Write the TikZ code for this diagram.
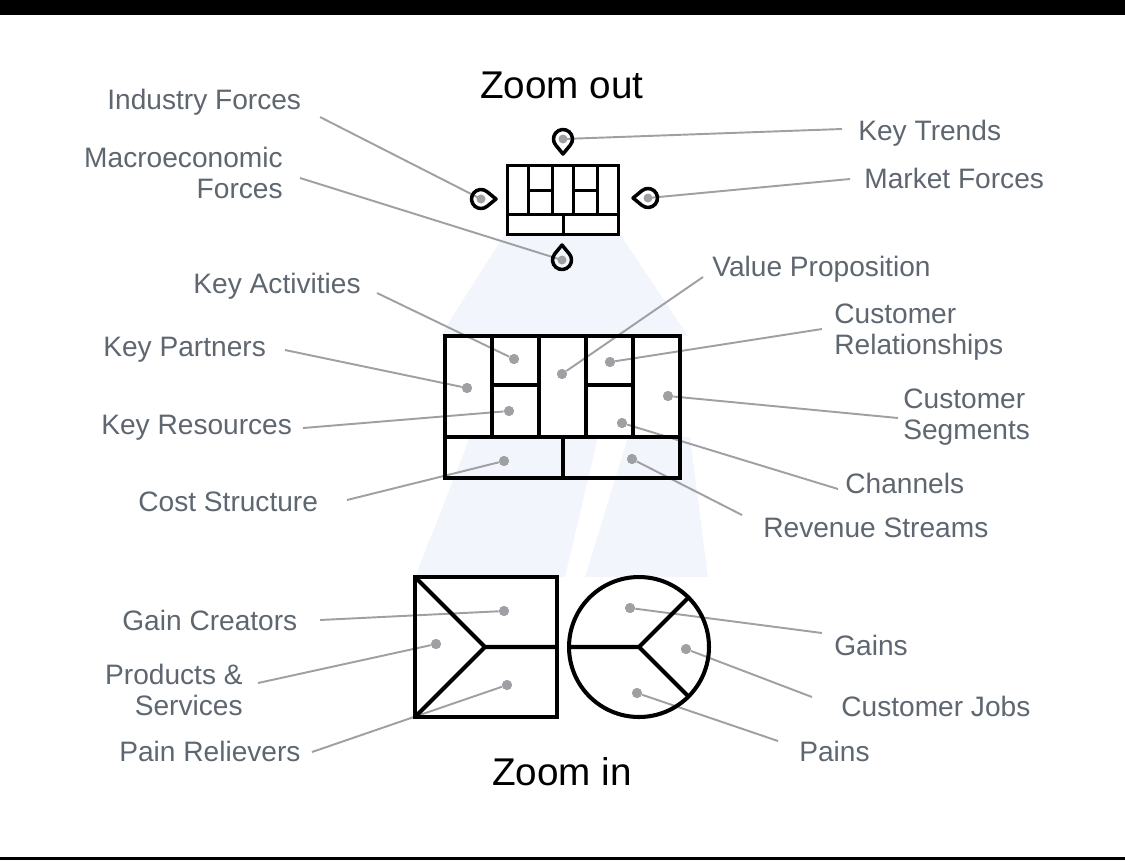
\documentclass[tikz,border=0pt]{standalone}
\usepackage{fontspec}
\setmainfont{Liberation Sans}
\usepackage{xcolor}
\definecolor{slate}{RGB}{94,102,112}
\definecolor{wire}{RGB}{158,160,164}
\definecolor{haze}{RGB}{242,246,252}
\usetikzlibrary{positioning}
\tikzset{
  drop/.pic={
    \draw[line width=2pt,line join=round]
      (50.7:0.19cm) arc[start angle=50.7,end angle=309.3,radius=0.19cm]
      -- (0.3cm,0) -- cycle;
  },
}

\begin{document}
\begin{tikzpicture}[x=0.02cm,y=-0.02cm,
    lbl/.style={font=\fontsize{16}{17.6}\selectfont,text=slate,inner sep=0pt},
    big/.style={font=\fontsize{22}{26}\selectfont,text=black,inner sep=0pt},
    leader/.style={draw=wire,line width=1.1pt},
    dot/.style={circle,fill=wire,inner sep=0pt,minimum size=0.2cm},
    frame/.style={line width=2.3pt,line join=miter},
    thin frame/.style={line width=1.7pt,line join=miter}]
  \useasboundingbox (0,0) rectangle (1125,860);
  \fill (0,0) rectangle (1125,15);
  \fill (0,857) rectangle (1125,860);

  %% light zoom beams
  \fill[haze] (505,234) -- (620,234) -- (688,336) -- (440,336) -- cycle;
  \fill[haze] (470,437) -- (598,437) -- (565,577) -- (415,577) -- cycle;
  \fill[haze] (628,437) -- (690,437) -- (708,577) -- (585,577) -- cycle;

  %% headings
  \node[big,anchor=base] (zout) at (562,98) {Zoom out};
  \node[big,anchor=base] (zin)  at (562,785) {Zoom in};

  %% environment map
  \coordinate (pinT) at (563,139);
  \coordinate (pinL) at (481,199);
  \coordinate (pinR) at (648,198);
  \coordinate (pinB) at (562,260);
  \node[lbl,anchor=base west] (lIF) at (107,109) {Industry Forces};
  \node[lbl,anchor=base east,align=right] (lME) at (283,198) {Macroeconomic\\Forces};
  \node[lbl,anchor=base west] (lKT) at (858,140) {Key Trends};
  \node[lbl,anchor=base west] (lMF) at (864,188) {Market Forces};
  \coordinate (sIF) at (320,117);
  \coordinate (sME) at (300,178);
  \coordinate (sKT) at (842,129);
  \coordinate (sMF) at (850,179);
  \draw[leader] (sIF) -- (pinL);
  \draw[leader] (sME) -- (pinB);
  \draw[leader] (sKT) -- (pinT);
  \draw[leader] (sMF) -- (pinR);

  %% small canvas
  \draw[thin frame] (507,165) rectangle (618,234);
  \draw[thin frame] (507,214) -- (618,214) (563,214) -- (563,234)
    (528,165) -- (528,214) (552,165) -- (552,214)
    (573,165) -- (573,214) (597,165) -- (597,214)
    (528,190) -- (552,190) (573,190) -- (597,190);
  \pic[rotate=-90] at (pinT) {drop};
  \pic at (pinL) {drop};
  \pic[rotate=180] at (pinR) {drop};
  \pic[rotate=90] at (pinB) {drop};
  \foreach \p in {pinT,pinL,pinR,pinB}
    \node[dot,minimum size=0.18cm] at (\p) {};

  %% business model canvas
  \node[lbl,anchor=base west] (lVP) at (712,276) {Value Proposition};
  \node[lbl,anchor=base east] (lKA) at (361,293) {Key Activities};
  \node[lbl,anchor=base west,align=left] (lCR) at (834,354) {Customer\\Relationships};
  \node[lbl,anchor=base west] (lKP) at (103,356) {Key Partners};
  \node[lbl,anchor=base west,align=left] (lCS) at (903,439) {Customer\\Segments};
  \node[lbl,anchor=base west] (lKR) at (101,434) {Key Resources};
  \node[lbl,anchor=base west] (lCH) at (845,493) {Channels};
  \node[lbl,anchor=base west] (lCO) at (138,511) {Cost Structure};
  \node[lbl,anchor=base west] (lRS) at (763,537) {Revenue Streams};

  \node[dot] (dKA) at (514,359) {};
  \node[dot] (dVP) at (562,374) {};
  \node[dot] (dCR) at (610,362) {};
  \node[dot] (dKP) at (467,388) {};
  \node[dot] (dKR) at (509,411) {};
  \node[dot] (dCS) at (668,396) {};
  \node[dot] (dCH) at (622,423) {};
  \node[dot] (dCO) at (504,461) {};
  \node[dot] (dRS) at (632,459) {};

  \coordinate (sVP) at (703,277);
  \coordinate (sKA) at (377,293);
  \coordinate (sCR) at (822,329);
  \coordinate (sKP) at (285,350);
  \coordinate (sCS) at (898,418);
  \coordinate (sKR) at (303,428);
  \coordinate (sCH) at (838,489);
  \coordinate (sCO) at (347,500);
  \coordinate (sRS) at (742,515);
  \foreach \k in {VP,KA,CR,KP,CS,KR,CH,CO,RS}
    \draw[leader] (s\k) -- (d\k);

  \draw[frame] (445,336) rectangle (680,478);
  \draw[frame] (445,437) -- (680,437) (563,437) -- (563,478)
    (492,336) -- (492,437) (539,336) -- (539,437)
    (586,336) -- (586,437) (633,336) -- (633,437)
    (492,385) -- (539,385) (586,385) -- (633,385);
  \foreach \k in {VP,KA,CR,KP,CS,KR,CH,CO,RS}
    \node[dot] at (d\k) {};

  %% value proposition canvas
  \node[lbl,anchor=base west] (lGC) at (122,630) {Gain Creators};
  \node[lbl,anchor=base east,align=right] (lPS) at (243,715) {Products \&\\Services};
  \node[lbl,anchor=base west] (lPR) at (119,761) {Pain Relievers};
  \node[lbl,anchor=base west] (lGA) at (834,655) {Gains};
  \node[lbl,anchor=base west] (lCJ) at (841,716) {Customer Jobs};
  \node[lbl,anchor=base west] (lPA) at (799,761) {Pains};

  \node[dot] (dGC) at (504,611) {};
  \node[dot] (dPS) at (436,644) {};
  \node[dot] (dPR) at (507,685) {};
  \node[dot] (dGA) at (630,608) {};
  \node[dot] (dCJ) at (686,649) {};
  \node[dot] (dPA) at (637,693) {};

  \coordinate (sGC) at (320,620);
  \coordinate (sPS) at (258,683);
  \coordinate (sPR) at (312,752);
  \coordinate (sGA) at (822,633);
  \coordinate (sCJ) at (812,697);
  \coordinate (sPA) at (778,741);
  \foreach \k in {GC,PS,PR,GA,CJ,PA}
    \draw[leader] (s\k) -- (d\k);

  \coordinate (vx) at (485,647);
  \coordinate (hub) at (639,647);
  \draw[frame] (415,577) rectangle (557,717);
  \draw[frame] (415,577) -- (vx) -- (415,717) (vx) -- (557,647);
  \draw[frame] (hub) circle[radius=1.4cm];
  \draw[frame] (569,647) -- (hub) -- (688.5,597.5) (hub) -- (688.5,696.5);
  \foreach \k in {GC,PS,PR,GA,CJ,PA}
    \node[dot] at (d\k) {};
\end{tikzpicture}
\end{document}
